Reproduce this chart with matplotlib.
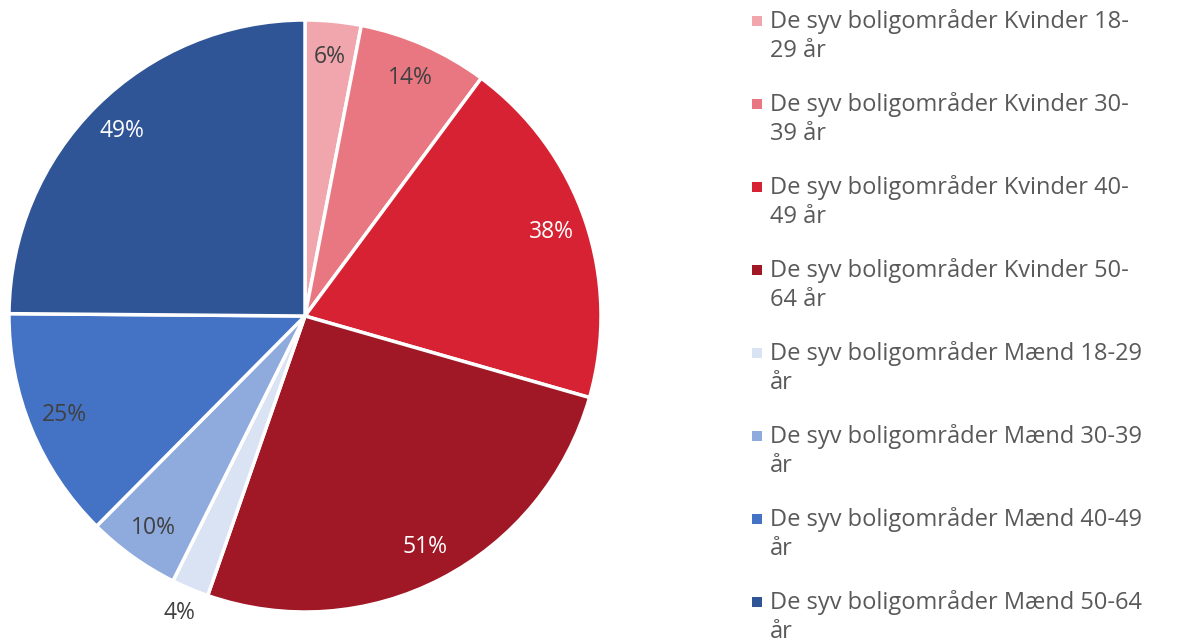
import matplotlib.pyplot as plt
from matplotlib.patches import Rectangle
import numpy as np

# 라벨과 값 (퍼센트)
labels = ['De syv boligområder Kvinder 18-\n29 år',
          'De syv boligområder Kvinder 30-\n39 år',
          'De syv boligområder Kvinder 40-\n49 år',
          'De syv boligområder Kvinder 50-\n64 år',
          'De syv boligområder Mænd 18-29\når',
          'De syv boligområder Mænd 30-39\når',
          'De syv boligområder Mænd 40-49\når',
          'De syv boligområder Mænd 50-64\når']
values = [6, 14, 38, 51, 4, 10, 25, 49]
colors = ['#F0A6AC', '#E97782', '#D62233', '#A01826',
          '#DAE3F3', '#8FAADC', '#4472C4', '#2F5597']
text_colors = ['#404040', '#404040', 'white', 'white',
               '#404040', '#404040', '#404040', 'white']

plt.rcParams['font.family'] = ['Open Sans', 'DejaVu Sans']

W, H = 1177, 638
fig = plt.figure(figsize=(W / 100, H / 100), dpi=100)

# 파이 축: 중심 (305,316), 반지름 약 296px
ax = fig.add_axes([9 / W, (H - 612) / H, 592 / W, 592 / H])
ax.pie(values, colors=colors, startangle=90, counterclock=False,
       wedgeprops=dict(edgecolor='white', linewidth=2.5))
ax.set_xlim(-1, 1)
ax.set_ylim(-1, 1)
ax.set_aspect('equal')
ax.axis('off')

# 퍼센트 라벨 (작은 조각은 바깥쪽에)
total = sum(values)
cum = 0
for v, tc in zip(values, text_colors):
    mid = 90 - 360 * (cum + v / 2) / total
    cum += v
    r = 0.88
    if v < 5:
        r = 1.09
    ax.text(r * np.cos(np.radians(mid)), r * np.sin(np.radians(mid)),
            f'{v}%', ha='center', va='center', fontsize=16.5, color=tc)

# 범례 (수동으로 그림)
for i, (lab, c) in enumerate(zip(labels, colors)):
    y0 = 21 + 83 * i
    fig.add_artist(Rectangle((752 / W, 1 - (y0 + 5) / H), 10 / W, 10 / H,
                             transform=fig.transFigure, color=c, lw=0))
    fig.text(770 / W, 1 - (y0 - 12) / H, lab, fontsize=17, color='#595959',
             ha='left', va='top', linespacing=1.28)

fig.savefig('out.png', dpi=100)
